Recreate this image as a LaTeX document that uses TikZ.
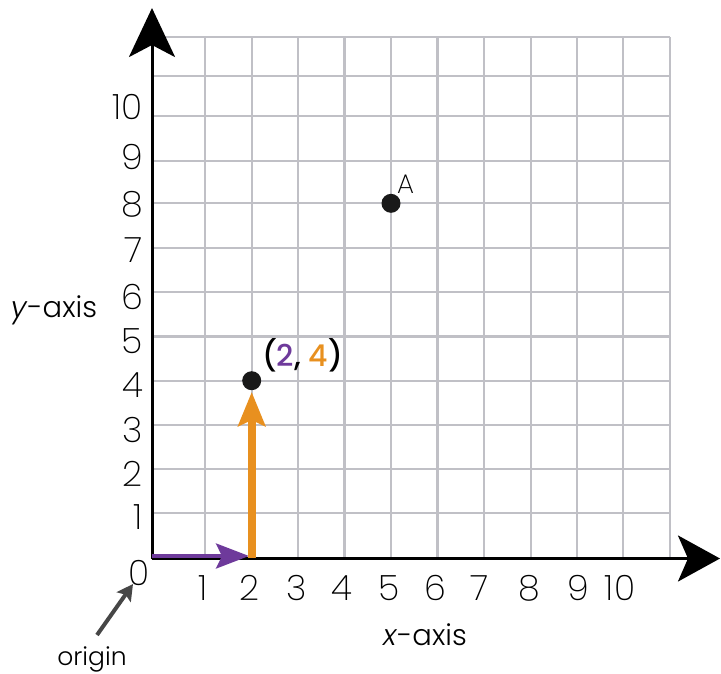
\documentclass[tikz,border=0pt]{standalone}
\usepackage{fontspec}
\setmainfont{Poppins Light}[ItalicFont={Poppins Light Italic},BoldFont={Poppins Medium}]
\newfontfamily\thinfont{Poppins ExtraLight}
\usetikzlibrary{arrows.meta}
\definecolor{gridgray}{RGB}{192,192,198}
\definecolor{vpurple}{RGB}{110,58,155}
\definecolor{vorange}{RGB}{232,144,31}
\definecolor{origgray}{RGB}{70,70,70}
\tikzset{
  gridline/.style={gridgray,line width=2.2pt},
  axisline/.style={black,line width=3pt},
  ticklabel/.style={font=\thinfont\fontsize{35}{37}\selectfont,inner sep=0pt,anchor=base},
  axistitle/.style={font=\fontsize{29}{32}\selectfont,inner sep=0pt,anchor=base},
  dotpt/.style={circle,fill=black!90,minimum size=19pt,inner sep=0pt},
}
\begin{document}
\begin{tikzpicture}[x=1pt,y=-1pt]
\useasboundingbox (0,0) rectangle (721,673);
% grid
\foreach \xx in {205,251.7,298,344.5,391,437.5,484,530.7,577.3,623.3,670}
  \draw[gridline] (\xx,37) -- (\xx,558);
\foreach \yy in {513.3,469.3,425,380.7,336.4,292,247.7,203.3,160.7,116,76,37}
  \draw[gridline] (152,\yy) -- (670,\yy);
% axes
\coordinate (O) at (152,558.5);
\coordinate (ytip) at (152,8);
\coordinate (xtip) at (720,558.5);
\draw[axisline,-{Stealth[length=49pt,width=46pt,inset=12pt]}] (O) -- (ytip);
\draw[axisline,-{Stealth[length=42pt,width=46pt,inset=10pt]}] (O) -- (xtip);
% tick labels
\foreach \lab/\yy in {1/529,2/486,3/442,4/397,5/353,6/309,7/262,8/216,9/169,10/119}
  \node[ticklabel,anchor=base east] at (143,\yy) {\lab};
\foreach \lab/\xx in {1/203,2/249,3/297,4/342,5/389,6/435,7/480,8/529,9/578,10/620}
  \node[ticklabel] at (\xx,600) {\lab};
\node[ticklabel] (zero) at (139,585) {0};
% vectors
\coordinate (P0) at (152,556);
\coordinate (P2) at (249,556);
\coordinate (Q0) at (251.7,558);
\coordinate (Q4) at (251.7,392);
\draw[vpurple,line width=4pt,-{Stealth[length=33pt,width=25pt,inset=6pt]}] (P0) -- (P2);
\draw[vorange,line width=8pt,-{Stealth[length=34pt,width=27pt,inset=6pt]}] (Q0) -- (Q4);
% points
\node[dotpt] (pt24) at (251.7,380.7) {};
\node[dotpt] (ptA) at (391,203.3) {};
\node[font=\thinfont\fontsize{27}{29}\selectfont,inner sep=0pt,anchor=base west] (labA) at (397,193) {A};
\node[font=\bfseries\fontsize{30}{32}\selectfont,inner sep=0pt,anchor=base west] (lab24) at (262,366)
  {(\textcolor{vpurple}{2}, \textcolor{vorange}{4})};
% axis titles
\node[axistitle] (ytitle) at (54,317) {\textit{y}-axis};
\node[axistitle] (xtitle) at (425,645) {\textit{x}-axis};
% origin
\node[font=\fontsize{25}{27}\selectfont,inner sep=0pt,anchor=base] (origin) at (92,665) {origin};
\coordinate (otail) at (97,635);
\coordinate (otip) at (133,584);
\draw[origgray,line width=4pt,-{Stealth[length=16pt,width=17pt,inset=3pt]}] (otail) -- (otip);
\end{tikzpicture}
\end{document}
